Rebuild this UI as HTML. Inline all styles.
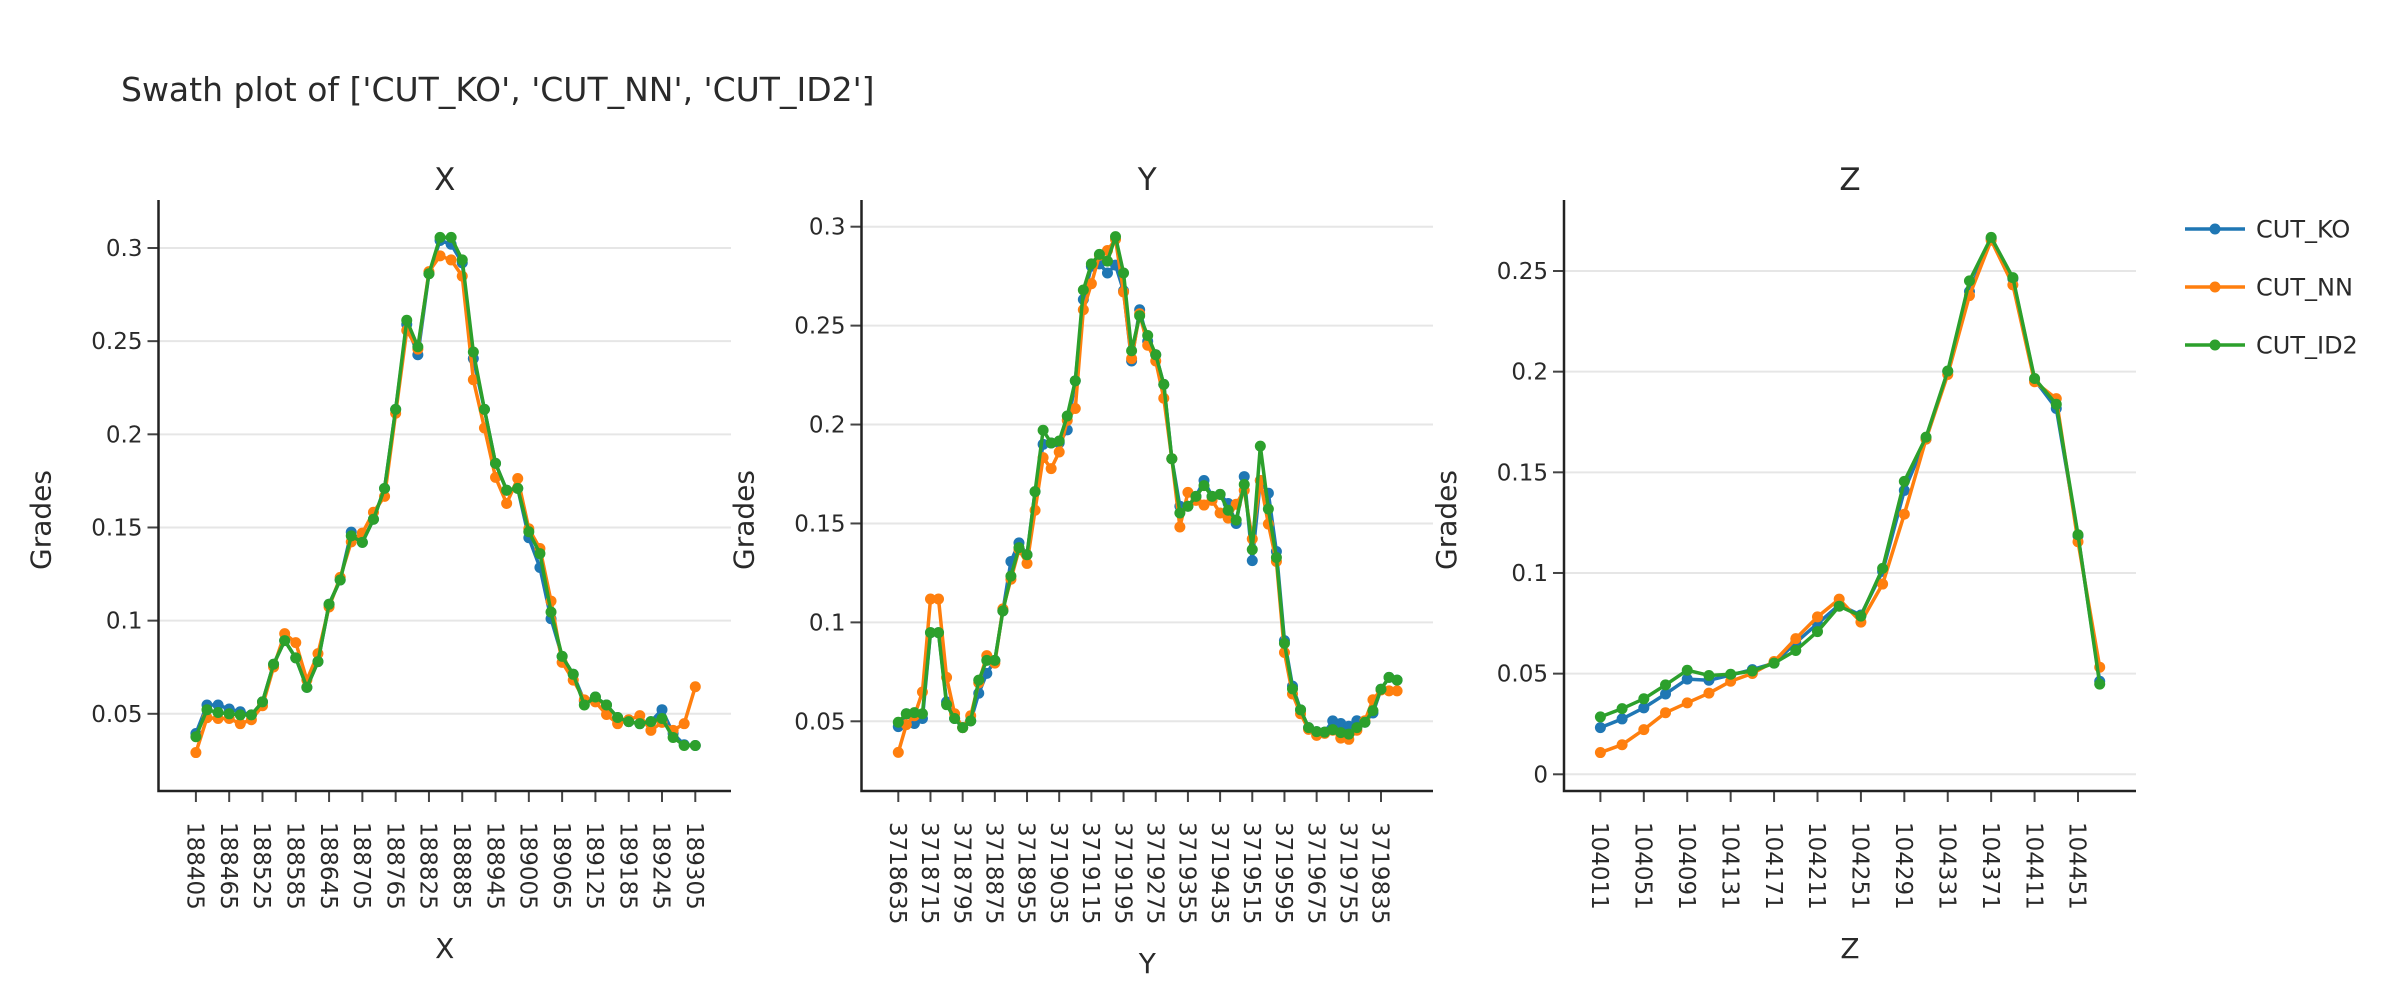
<!DOCTYPE html>
<html><head><meta charset="utf-8"><style>
html,body{margin:0;padding:0;background:#fff}
svg text{font-family:"DejaVu Sans","Liberation Sans",sans-serif;fill:#2a2a2a}
</style></head><body>
<svg id="chart" width="2400" height="1000" viewBox="0 0 2400 1000" xmlns="http://www.w3.org/2000/svg">
<rect width="2400" height="1000" fill="#fff"/>
<text x="121" y="101" font-size="33">Swath plot of ['CUT_KO', 'CUT_NN', 'CUT_ID2']</text>
<g id="panels"></g>
<g id="legend"></g>
</svg>
<script>
const seriesNames = ['CUT_KO','CUT_NN','CUT_ID2'];
const seriesColors = ['#1f77b4','#ff7f0e','#2ca02c'];

const xTickLabels = [188405,188465,188525,188585,188645,188705,188765,188825,188885,188945,189005,189065,189125,189185,189245,189305];
const yTickLabels = [3718635,3718715,3718795,3718875,3718955,3719035,3719115,3719195,3719275,3719355,3719435,3719515,3719595,3719675,3719755,3719835];
const zTickLabels = [104011,104051,104091,104131,104171,104211,104251,104291,104331,104371,104411,104451];

const xPanelTicks = [0.05,0.1,0.15,0.2,0.25,0.3];
const yPanelTicks = [0.05,0.1,0.15,0.2,0.25,0.3];
const zPanelTicks = [0,0.05,0.1,0.15,0.2,0.25];

const xStart = 188405, xStep = 20;
const yStart = 3718635, yStep = 20;
const zStart = 104011, zStep = 20;

const xKO = [0.0394,0.0547,0.0547,0.0526,0.0511,0.0494,0.0564,0.0766,0.0893,0.080,0.0642,0.078,0.1088,0.1218,0.1475,0.142,0.1544,0.171,0.2134,0.2590,0.2427,0.2862,0.3040,0.3020,0.2920,0.2406,0.2134,0.1844,0.17,0.171,0.1445,0.1285,0.101,0.0808,0.0712,0.0568,0.059,0.0547,0.048,0.0458,0.0447,0.0458,0.0522,0.0394,0.0334,0.033];
const xNN = [0.0292,0.0479,0.0475,0.0475,0.0447,0.0468,0.0543,0.0751,0.0930,0.0882,0.0681,0.0823,0.1073,0.1232,0.1423,0.147,0.1582,0.1667,0.2113,0.2558,0.2457,0.2873,0.2958,0.2936,0.2849,0.2293,0.2034,0.1769,0.1629,0.1763,0.1493,0.1387,0.1105,0.0776,0.0681,0.0575,0.0564,0.0496,0.0447,0.0468,0.049,0.0411,0.0454,0.0411,0.0447,0.0645];
const xID2 = [0.0377,0.0522,0.0507,0.05,0.0494,0.0494,0.0564,0.0766,0.0893,0.080,0.0642,0.078,0.1088,0.1218,0.1455,0.142,0.1544,0.171,0.2134,0.2612,0.247,0.2862,0.3057,0.3057,0.2936,0.2442,0.2134,0.1844,0.17,0.171,0.1477,0.136,0.1046,0.0808,0.0712,0.0547,0.059,0.0547,0.048,0.0458,0.0447,0.0458,0.0475,0.0373,0.033,0.033];

const yKO = [0.0473,0.0538,0.0489,0.0514,0.0948,0.0948,0.0598,0.0514,0.0468,0.0502,0.0642,0.0742,0.0808,0.1058,0.1308,0.1402,0.1342,0.1661,0.190,0.1907,0.1907,0.1973,0.2221,0.2632,0.28,0.2812,0.2766,0.2806,0.2676,0.2321,0.258,0.2421,0.2353,0.2203,0.1827,0.1587,0.1587,0.1637,0.1717,0.1637,0.1647,0.1601,0.150,0.1737,0.1312,0.1717,0.1653,0.1358,0.0908,0.0678,0.0558,0.0468,0.0448,0.0445,0.0502,0.0489,0.0475,0.0503,0.0495,0.0542,0.0662,0.0722,0.0708];
const yNN = [0.0343,0.0483,0.0528,0.0648,0.1118,0.1118,0.0722,0.0538,0.0468,0.0528,0.0694,0.0832,0.0794,0.1068,0.1218,0.1368,0.1298,0.1567,0.1833,0.1777,0.1861,0.2021,0.2081,0.258,0.2712,0.2856,0.288,0.2936,0.267,0.2333,0.256,0.2401,0.2321,0.2133,0.1827,0.1482,0.1657,0.1617,0.1593,0.1617,0.1553,0.1527,0.1597,0.1667,0.1422,0.1717,0.1497,0.1308,0.0848,0.0638,0.0538,0.0459,0.0429,0.0439,0.0455,0.0415,0.0409,0.0455,0.0503,0.0609,0.0658,0.0654,0.0654];
const yID2 = [0.0495,0.0538,0.0544,0.0538,0.0948,0.0948,0.0584,0.0514,0.0468,0.0502,0.0708,0.0808,0.0808,0.1058,0.1234,0.1378,0.1342,0.1661,0.1971,0.1907,0.1917,0.2043,0.2221,0.268,0.2812,0.286,0.2826,0.295,0.2766,0.2373,0.255,0.245,0.2353,0.2203,0.1827,0.1553,0.1587,0.1637,0.1691,0.1637,0.1647,0.1567,0.1517,0.1697,0.1368,0.1891,0.1573,0.1328,0.0894,0.0664,0.0558,0.0468,0.0448,0.0445,0.0458,0.0443,0.0435,0.0468,0.0495,0.0554,0.0662,0.0722,0.0708];

const zKO = [0.0232,0.0275,0.033,0.0399,0.0473,0.0467,0.0493,0.052,0.0552,0.0654,0.0748,0.0841,0.0791,0.1008,0.141,0.1665,0.2,0.2398,0.2661,0.2461,0.196,0.1817,0.1184,0.0462];
const zNN = [0.0108,0.0147,0.0222,0.0306,0.0355,0.0403,0.0462,0.0501,0.056,0.0674,0.0782,0.087,0.0756,0.0945,0.1292,0.1665,0.1986,0.2378,0.2653,0.2431,0.195,0.1866,0.1155,0.0532];
const zID2 = [0.0285,0.0326,0.0375,0.0444,0.0517,0.0491,0.0497,0.0513,0.0552,0.0615,0.0709,0.0835,0.0786,0.1023,0.1455,0.1675,0.2003,0.2451,0.2667,0.2467,0.1966,0.1838,0.119,0.0448];

const NS='http://www.w3.org/2000/svg';
function mk(tag, attrs, parent){const e=document.createElementNS(NS,tag);for(const k in attrs)e.setAttribute(k,attrs[k]);parent.appendChild(e);return e;}

const panels = [
 {key:'x', title:'X', left:158.5, right:731, top:200, bottom:791,
  xa:{v0:188405,p0:195.9,v1:189305,p1:695.3}, ya:{v0:0.05,p0:713.8,v1:0.3,p1:248},
  ticks:xTickLabels, yticks:xPanelTicks, start:xStart, step:xStep, series:[xKO,xNN,xID2], xtitleY:958},
 {key:'y', title:'Y', left:861.5, right:1433, top:200, bottom:791,
  xa:{v0:3718635,p0:898.3,v1:3719835,p1:1381}, ya:{v0:0.05,p0:721.3,v1:0.3,p1:226.7},
  ticks:yTickLabels, yticks:yPanelTicks, start:yStart, step:yStep, series:[yKO,yNN,yID2], xtitleY:973},
 {key:'z', title:'Z', left:1564, right:2136, top:200, bottom:791,
  xa:{v0:104011,p0:1600.4,v1:104451,p1:2078}, ya:{v0:0,p0:774.3,v1:0.25,p1:271},
  ticks:zTickLabels, yticks:zPanelTicks, start:zStart, step:zStep, series:[zKO,zNN,zID2], xtitleY:958}
];
const root=document.getElementById('panels');
panels.forEach(P=>{
  const xs=v=>P.xa.p0+(v-P.xa.v0)*(P.xa.p1-P.xa.p0)/(P.xa.v1-P.xa.v0);
  const ys=v=>P.ya.p0+(v-P.ya.v0)*(P.ya.p1-P.ya.p0)/(P.ya.v1-P.ya.v0);
  const g=mk('g',{},root);
  
  
  const cx=(P.left+P.right)/2;
  const st=mk('text',{x:cx,y:190,'font-size':31,'text-anchor':'middle'},g);
  st.textContent=P.title;
  
  
  // grid + y ticks
  P.yticks.forEach(t=>{
    const y=ys(t);
    const gl=mk('line',{x1:P.left,x2:P.right,y1:y,y2:y,stroke:'#e6e6e6','stroke-width':2},g);
    
    
    mk('line',{x1:P.left-11,x2:P.left,y1:y,y2:y,stroke:'#444','stroke-width':2},g);
    const tl=mk('text',{x:P.left-16,y:y+8,'font-size':23,'text-anchor':'end'},g);
    tl.textContent=String(t).replace(/^0\.?$/,'0');
    
    
  });
  // x ticks
  P.ticks.forEach(t=>{
    const x=xs(t);
    mk('line',{x1:x,x2:x,y1:P.bottom,y2:P.bottom+11,stroke:'#444','stroke-width':2},g);
    const tl=mk('text',{transform:`translate(${x},822) rotate(90)`,'font-size':23,dy:'0.36em'},g);
    tl.textContent=t;
    
    
  });
  // axes
  const ax=mk('path',{d:`M${P.left},${P.top}V${P.bottom}H${P.right}`,fill:'none',stroke:'#222','stroke-width':2.5},g);
  
  
  const yt=mk('text',{transform:`translate(${P.left-108},520) rotate(-90)`,'font-size':28,'text-anchor':'middle'},g);
  yt.textContent='Grades';
  
  
  const xt=mk('text',{x:cx,y:P.xtitleY,'font-size':28,'text-anchor':'middle'},g);
  xt.textContent=P.title;
  
  
  // series
  P.series.forEach((arr,si)=>{
    const sg=mk('g',{},g);
    
    
    const pts=arr.map((v,i)=>[xs(P.start+i*P.step),ys(v)]);
    const ln=mk('polyline',{points:pts.map(p=>p.join(',')).join(' '),fill:'none',stroke:seriesColors[si],'stroke-width':3.5,'stroke-linejoin':'round'},sg);
    
    
    pts.forEach(p=>{
      const c=mk('circle',{cx:p[0],cy:p[1],r:5.5,fill:seriesColors[si]},sg);
      
      
    });
  });
});
const lg=document.getElementById('legend');
seriesNames.forEach((n,i)=>{
  const y=229+i*58;
  const e=mk('g',{},lg);
  
  
  mk('line',{x1:2185,x2:2245,y1:y,y2:y,stroke:seriesColors[i],'stroke-width':3.5},e);
  mk('circle',{cx:2215,cy:y,r:5.5,fill:seriesColors[i]},e);
  const t=mk('text',{x:2256,y:y+8.5,'font-size':24},e);
  t.textContent=n;
});
</script>
</body></html>
